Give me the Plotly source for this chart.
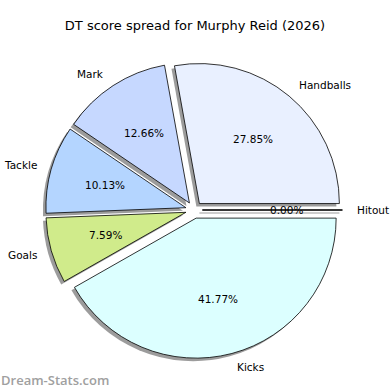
import math
import plotly.graph_objects as go

labels = ["Hitout", "Kicks", "Goals", "Tackle", "Mark", "Handballs"]
values = [0, 33, 6, 8, 10, 22]
colors = ["#FFE9D6", "#DCFFFF", "#D0EB8B", "#B4D5FF", "#C6D8FF", "#E9F0FF"]
title = "DT score spread for Murphy Reid (2026)"

W = H = 390
pull = 0.06
cx, cy = 194, 210          # pie centre in px (from top-left)
R = 140                    # pie radius in px
half = R * (1 + pull)
FONT = "DejaVu Sans"
FS = 10.5
PCT_DIST = 0.6
LAB_DIST = 1.1

def dom(cx_, cy_, half_):
    return dict(x=[(cx_ - half_) / W, (cx_ + half_) / W],
                y=[(H - (cy_ + half_)) / H, (H - (cy_ - half_)) / H])

common = dict(labels=labels, values=values, sort=False, direction="clockwise",
              rotation=90, pull=[pull] * len(values), showlegend=False, hoverinfo="skip",
              automargin=False, textinfo="none")

fig = go.Figure()
# shadow
fig.add_trace(go.Pie(**common, domain=dom(cx - 3, cy + 3, half),
                     marker=dict(colors=["rgba(90,90,90,0.6)"] * len(values), line=dict(width=0))))
# main pie
fig.add_trace(go.Pie(**common, domain=dom(cx, cy, half),
                     marker=dict(colors=colors, line=dict(color="black", width=0.8))))

# percentage and label texts, placed like matplotlib (pctdistance / labeldistance)
total = sum(values)
cum = 0.0
for lab, v in zip(labels, values):
    a0 = -cum / total * 360
    a1 = -(cum + v) / total * 360
    cum += v
    mid = math.radians((a0 + a1) / 2)
    c, s = math.cos(mid), math.sin(mid)
    px = cx + (PCT_DIST + pull) * R * c
    py = cy - (PCT_DIST + pull) * R * s
    fig.add_annotation(x=px / W, y=1 - py / H, xref="paper", yref="paper",
                       text=f"{v / total * 100:.2f}%", showarrow=False,
                       xanchor="center", yanchor="middle", borderpad=0,
                       font=dict(family=FONT, size=FS, color="black"))
    lx = cx + (LAB_DIST + pull) * R * c
    ly = cy - (LAB_DIST + pull) * R * s
    fig.add_annotation(x=lx / W, y=1 - ly / H, xref="paper", yref="paper",
                       text=lab, showarrow=False, borderpad=0,
                       xanchor="left" if c > 0 else "right", yanchor="middle",
                       font=dict(family=FONT, size=FS, color="black"))

# zero-value Hitout wedge (degenerate) drawn as its edge line with shadow
fig.add_shape(type="line", x0=(cx + R * pull - 3) / W, x1=(cx + R * (1 + pull) - 3) / W,
              y0=(H - cy - 3) / H, y1=(H - cy - 3) / H, xref="paper", yref="paper",
              line=dict(color="rgba(90,90,90,0.6)", width=1.2), layer="below")
fig.add_shape(type="line", x0=(cx + R * pull) / W, x1=(cx + R * (1 + pull)) / W,
              y0=(H - cy) / H, y1=(H - cy) / H, xref="paper", yref="paper",
              line=dict(color="black", width=0.8))

fig.add_annotation(x=0, y=10 / H, xref="paper", yref="paper", text="Dream-Stats.com",
                   showarrow=False, xanchor="left", yanchor="middle", borderpad=0,
                   font=dict(family="Open Sans", size=13, color="#a0a0a0", weight=600))

fig.update_layout(width=W, height=H, margin=dict(l=0, r=0, t=0, b=0, autoexpand=False),
                  paper_bgcolor="white", plot_bgcolor="white",
                  title=dict(text=title, x=0.5, xanchor="center", y=1 - 25 / H, yanchor="middle",
                             font=dict(family=FONT, size=13, color="black")))

fig.write_html("out.html", config={"displayModeBar": False},
               post_script="document.body.style.margin='0';")
